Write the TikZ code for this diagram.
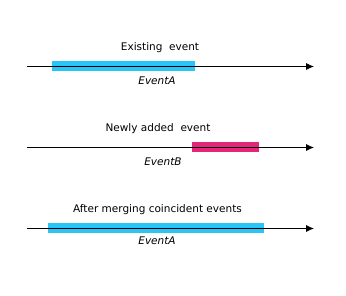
\documentclass[tikz,border=0pt]{standalone}
\usepackage{fontspec}
\setmainfont{DejaVu Sans}
\usetikzlibrary{arrows.meta}
\definecolor{evcyan}{RGB}{41,197,246}
\definecolor{evpink}{RGB}{228,38,122}
\begin{document}
\begin{tikzpicture}[x=1pt,y=-1pt,every node/.style={font=\fontsize{10.5}{12}\selectfont,inner sep=0pt}]
\tikzset{axis/.style={line width=0.8pt,-{Latex[length=8pt,width=7pt]}},
  evbar/.style={draw=none,inner sep=0pt,minimum height=10pt}}
\useasboundingbox (0,0) rectangle (346,296);
% existing event
\node[evbar,fill=evcyan,minimum width=143pt] (barA) at (123.5,66.5) {};
\coordinate (s1) at (27,66.5); \coordinate (e1) at (314,66.5);
\draw[axis] (s1) -- (e1);
\node (t1) at (160,47.5) {Existing\ \ event};
\node (n1) at (157,80.5) {\itshape EventA};
% newly added event
\node[evbar,fill=evpink,minimum width=67pt] (barB) at (225,147.5) {};
\coordinate (s2) at (27,147.5); \coordinate (e2) at (314,147.5);
\draw[axis] (s2) -- (e2);
\node (t2) at (158,129) {Newly added\ \ event};
\node (n2) at (163,161.5) {\itshape EventB};
% merged
\node[evbar,fill=evcyan,minimum width=216pt] (barC) at (155.5,228.5) {};
\coordinate (s3) at (27,228.5); \coordinate (e3) at (314,228.5);
\draw[axis] (s3) -- (e3);
\node (t3) at (157.5,210) {After merging coincident events};
\node (n3) at (157,240.5) {\itshape EventA};
\end{tikzpicture}
\end{document}
